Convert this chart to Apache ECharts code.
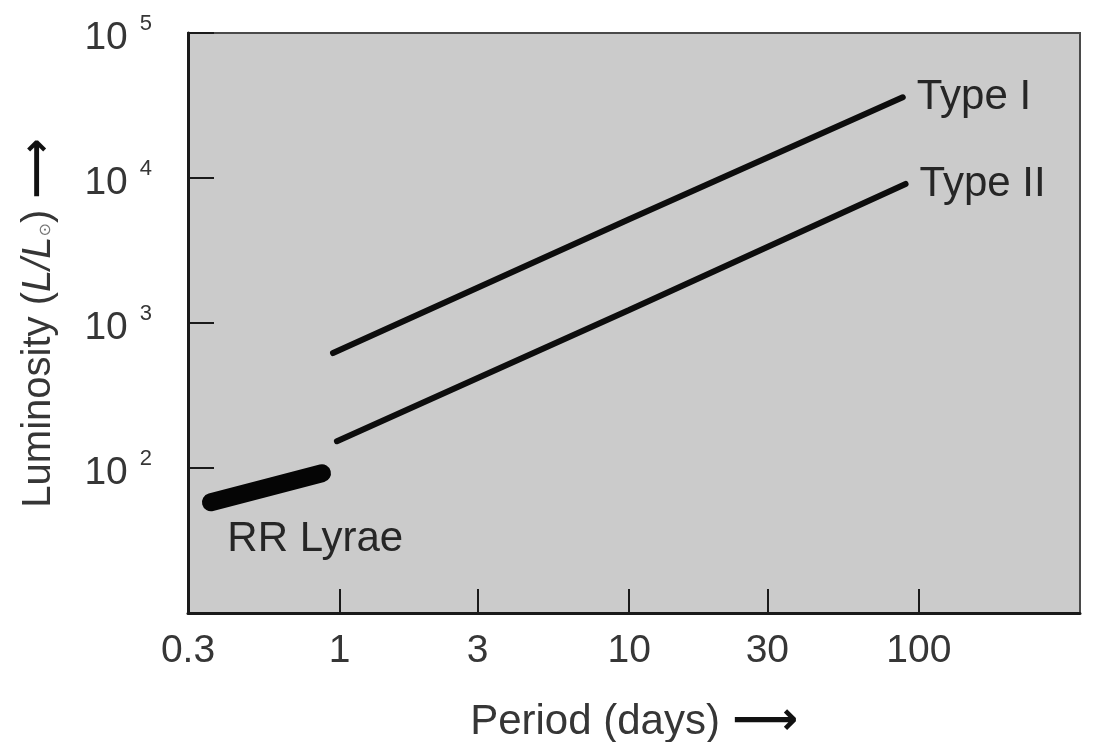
<!DOCTYPE html>
<html>
<head>
<meta charset="utf-8">
<script src="https://cdn.jsdelivr.net/npm/echarts@6/dist/echarts.min.js"></script>
<style>
html,body{margin:0;padding:0;background:#ffffff;}
#chart{width:1093px;height:742px;}
</style>
</head>
<body>
<div id="chart"></div>
<script>
// ---- data ----
var xTickValues = [0.3, 1, 3, 10, 30, 100];
var xTickLabels = ['0.3', '1', '3', '10', '30', '100'];
var yTickExponents = [2, 3, 4, 5];

var typeIPeriod = [0.95, 10, 88];
var typeILum = [620, 5200, 36000];

var typeIIPeriod = [0.98, 10, 90];
var typeIILum = [153, 1230, 9100];

var rrPeriod = [0.36, 0.56, 0.87];
var rrLum = [58, 73, 92];

var rrLabelPeriod = [0.41];
var rrLabelLum = [32];

var xMin = 0.3, xMax = 360;
var yMin = 10, yMax = 100000;

// ---- helpers ----
function lg(v) { return Math.log10(v); }
function pairs(xs, ys) { return xs.map(function (x, i) { return [lg(x), lg(ys[i])]; }); }

var FONT = 'Liberation Sans';
var TXT = '#363636';

var chart = echarts.init(document.getElementById('chart'), null, {renderer: 'canvas'});

var option = {
  backgroundColor: '#ffffff',
  animation: false,
  grid: {
    left: 188, right: 13, top: 33, bottom: 129,
    outerBoundsMode: 'none',
    containLabel: false,
    show: true,
    backgroundColor: '#cbcbcb',
    borderColor: '#4a4a4a',
    borderWidth: 2
  },
  xAxis: {
    type: 'value',
    min: lg(xMin),
    max: lg(xMax),
    splitLine: {show: false},
    axisLine: {show: true, onZero: false, lineStyle: {color: '#1a1a1a', width: 3}},
    axisTick: {
      show: true, inside: true, length: 24,
      customValues: xTickValues.map(lg),
      lineStyle: {color: '#1a1a1a', width: 2}
    },
    axisLabel: {
      show: true,
      customValues: xTickValues.map(lg),
      margin: 19,
      color: TXT,
      fontFamily: FONT,
      fontSize: 39,
      formatter: function (v) {
        for (var i = 0; i < xTickValues.length; i++) {
          if (Math.abs(lg(xTickValues[i]) - v) < 1e-6) return xTickLabels[i];
        }
        return '';
      }
    },
    name: '{t|Period (days)}{a|\u27F6}',
    nameLocation: 'middle',
    nameGap: 86,
    nameTextStyle: {
      rich: {
        t: {fontFamily: FONT, fontSize: 42, color: TXT},
        a: {fontFamily: 'DejaVu Sans', fontSize: 46, color: '#111', fontWeight: 'bold', padding: [0, 0, 0, 12]}
      }
    }
  },
  yAxis: {
    type: 'value',
    min: lg(yMin),
    max: lg(yMax),
    interval: 1,
    splitLine: {show: false},
    axisLine: {show: true, onZero: false, lineStyle: {color: '#1a1a1a', width: 3}},
    axisTick: {show: true, inside: true, length: 26, lineStyle: {color: '#1a1a1a', width: 2}},
    axisLabel: {
      margin: 36,
      formatter: function (v) {
        var e = Math.round(v);
        if (yTickExponents.indexOf(e) < 0) return '';
        return '{b|10}{s|' + e + '}';
      },
      rich: {
        b: {fontFamily: FONT, fontSize: 39, color: TXT, lineHeight: 40, padding: [10, 0, 0, 0]},
        s: {fontFamily: FONT, fontSize: 22, color: TXT, verticalAlign: 'top', lineHeight: 16, padding: [0, 0, 0, 12]}
      }
    },
    name: '{t|Luminosity (}{i|L/L}{sub|\u2299}{t|) }{a|\u27F6}',
    nameLocation: 'middle',
    nameRotate: 90,
    nameGap: 128,
    nameTextStyle: {
      rich: {
        t: {fontFamily: FONT, fontSize: 40, color: TXT},
        i: {fontFamily: FONT, fontSize: 40, fontStyle: 'italic', color: TXT},
        sub: {fontFamily: 'DejaVu Sans', fontSize: 16, color: '#777', verticalAlign: 'bottom', padding: [0, 0, 6, 0]},
        a: {fontFamily: 'DejaVu Sans', fontSize: 42, color: '#111', fontWeight: 'bold'}
      }
    }
  },
  series: [
    {
      name: 'Type I',
      type: 'line',
      data: pairs(typeIPeriod, typeILum),
      symbol: 'none',
      lineStyle: {color: '#0d0d0d', width: 6, cap: 'round'},
      endLabel: {
        show: true, formatter: 'Type I', distance: 14,
        fontFamily: FONT, fontSize: 42, color: '#262626'
      }
    },
    {
      name: 'Type II',
      type: 'line',
      data: pairs(typeIIPeriod, typeIILum),
      symbol: 'none',
      lineStyle: {color: '#0d0d0d', width: 6, cap: 'round'},
      endLabel: {
        show: true, formatter: 'Type II', distance: 14,
        fontFamily: FONT, fontSize: 42, color: '#262626'
      }
    },
    {
      name: 'RR Lyrae',
      type: 'line',
      data: pairs(rrPeriod, rrLum),
      symbol: 'none',
      smooth: 0.5,
      lineStyle: {color: '#050505', width: 18, cap: 'round', join: 'round'}
    },
    {
      name: 'RR Lyrae label',
      type: 'scatter',
      data: pairs(rrLabelPeriod, rrLabelLum),
      symbolSize: 0,
      itemStyle: {opacity: 1},
      label: {
        show: true, position: 'right', distance: 0,
        formatter: 'RR Lyrae',
        fontFamily: FONT, fontSize: 42, color: '#262626'
      }
    }
  ]
};
chart.setOption(option);
</script>
</body>
</html>
